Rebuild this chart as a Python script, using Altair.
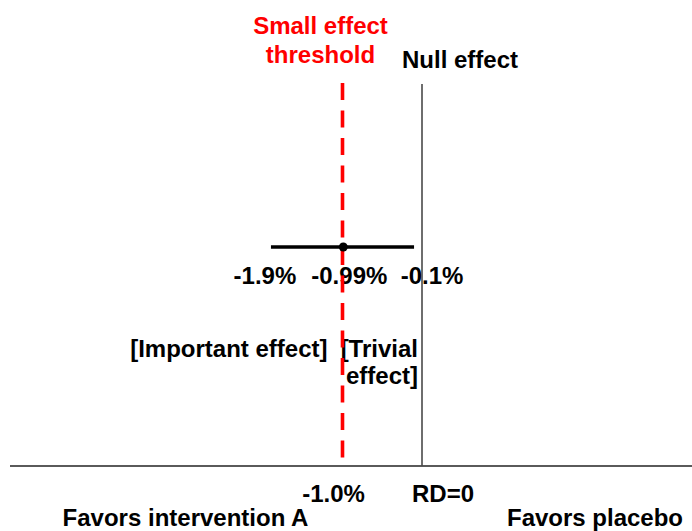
import altair as alt
import pandas as pd

# ---- data (risk difference, %) ----
estimate = [-0.99]
ci_low = [-1.9]
ci_high = [-0.1]
ci_labels = ["-1.9%", "-0.99%", "-0.1%"]
threshold = [-1.0]
null_value = [0.0]
ref_labels = ["-1.0%", "RD=0"]
side_labels = ["Favors intervention A", "Favors placebo"]
region_labels = ["[Important effect]", "[Trivial", "effect]"]
threshold_title = ["Small effect", "threshold"]
null_title = ["Null effect"]

# ---- layout ----
W, H = 692, 531
X0, XK = 422.0, 79.5           # pixel of RD=0 and pixels per 1 %
xdom = [(0 - X0) / XK, (W - X0) / XK]
xs = alt.Scale(domain=xdom, nice=False, zero=False)
ys = alt.Scale(domain=[0, H], reverse=True, nice=False, zero=False)
FONT = "Liberation Sans"
FS = 24

X = lambda f="x": alt.X(f"{f}:Q", scale=xs, axis=None)
Y = lambda f="y": alt.Y(f"{f}:Q", scale=ys, axis=None)

# horizontal baseline
base_df = pd.DataFrame({"x": [(10 - X0) / XK], "x2": [xdom[1]], "y": [466]})
baseline = alt.Chart(base_df).mark_rule(color="#5a5a5a", strokeWidth=2).encode(
    x=X(), x2="x2:Q", y=Y()
)

# null effect line
null_df = pd.DataFrame({"x": null_value, "y": [84], "y2": [466]})
null_rule = alt.Chart(null_df).mark_rule(color="#4a4a4a", strokeWidth=1.6).encode(
    x=X(), y=Y(), y2="y2:Q"
)

# small-effect threshold (dashed red)
thr_df = pd.DataFrame({"x": threshold, "y": [83], "y2": [460]})
thr_rule = alt.Chart(thr_df).mark_rule(
    color="#ff0000", strokeWidth=3.6, strokeDash=[17, 10.5]
).encode(x=X(), y=Y(), y2="y2:Q")

# confidence interval + point estimate
ci_df = pd.DataFrame({"lo": ci_low, "hi": ci_high, "est": estimate, "y": [247]})
ci_line = alt.Chart(ci_df).mark_rule(color="black", strokeWidth=3.5).encode(
    x=X("lo"), x2="hi:Q", y=Y()
)
pt = alt.Chart(ci_df).mark_point(filled=True, color="black", size=80, opacity=1).encode(
    x=X("est"), y=Y()
)

# ---- text annotations ----
rows = []
def add(t, anchor, dx, y, align="center", color="black"):
    rows.append({"t": t, "x": anchor + dx / XK, "y": y, "al": align, "col": color})

add(threshold_title[0], threshold[0], -22, 27, color="red")
add(threshold_title[1], threshold[0], -22, 56, color="red")
add(null_title[0], null_value[0], 38, 61)
add(ci_labels[0], ci_low[0], -6, 277)
add(ci_labels[1], estimate[0], 6, 277)
add(ci_labels[2], ci_high[0], 18, 277)
add(region_labels[0], threshold[0], -15, 350, align="right")
add(region_labels[1], null_value[0], -4, 350, align="right")
add(region_labels[2], null_value[0], -4, 377, align="right")
add(ref_labels[0], threshold[0], -9, 495)
add(ref_labels[1], null_value[0], 21, 495)
add(side_labels[0], threshold[0], -157, 519)
add(side_labels[1], null_value[0], 173, 519)
txt_df = pd.DataFrame(rows)

def text_layer(align, color):
    d = txt_df[(txt_df["al"] == align) & (txt_df["col"] == color)].reset_index(drop=True)
    return alt.Chart(d).mark_text(
        font=FONT, fontWeight="bold", fontSize=FS, align=align,
        baseline="middle", color=color
    ).encode(x=X(), y=Y(), text="t:N")

texts = [text_layer("center", "black"), text_layer("right", "black"),
         text_layer("center", "red")]

chart = alt.layer(*texts, baseline, null_rule, thr_rule, ci_line, pt).properties(
    width=W, height=H, padding=0, autosize=alt.AutoSizeParams(type="none"),
    background="white"
).configure_view(stroke=None)

chart.save("out.html", embed_options={"renderer": "svg", "actions": False})
